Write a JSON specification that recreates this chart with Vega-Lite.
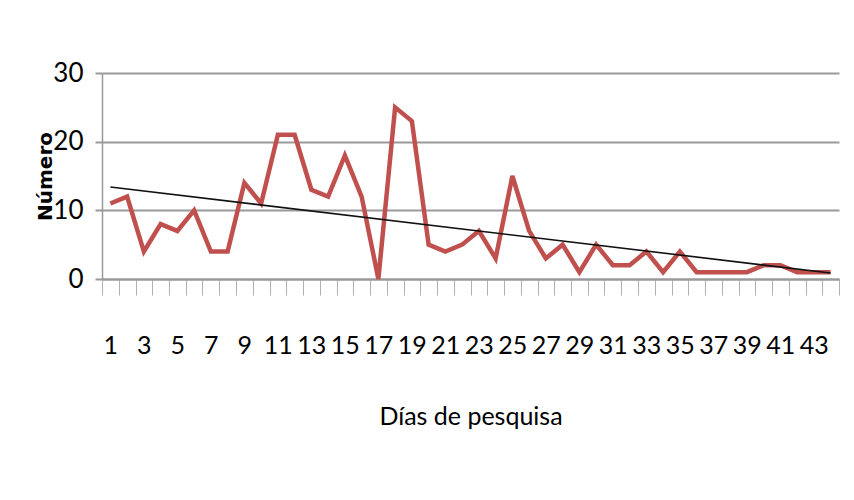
{
  "$schema": "https://vega.github.io/schema/vega-lite/v6.json",
  "width": 737,
  "height": 206,
  "autosize": {"type": "none"},
  "padding": {"left": 102, "top": 73, "right": 15, "bottom": 221},
  "background": "white",
  "config": {
    "view": {"stroke": null},
    "font": "Lato"
  },
  "data": {
    "values": [
      {"dia": 1, "numero": 11}, {"dia": 2, "numero": 12}, {"dia": 3, "numero": 4},
      {"dia": 4, "numero": 8}, {"dia": 5, "numero": 7}, {"dia": 6, "numero": 10},
      {"dia": 7, "numero": 4}, {"dia": 8, "numero": 4}, {"dia": 9, "numero": 14},
      {"dia": 10, "numero": 11}, {"dia": 11, "numero": 21}, {"dia": 12, "numero": 21},
      {"dia": 13, "numero": 13}, {"dia": 14, "numero": 12}, {"dia": 15, "numero": 18},
      {"dia": 16, "numero": 12}, {"dia": 17, "numero": 0}, {"dia": 18, "numero": 25},
      {"dia": 19, "numero": 23}, {"dia": 20, "numero": 5}, {"dia": 21, "numero": 4},
      {"dia": 22, "numero": 5}, {"dia": 23, "numero": 7}, {"dia": 24, "numero": 3},
      {"dia": 25, "numero": 15}, {"dia": 26, "numero": 7}, {"dia": 27, "numero": 3},
      {"dia": 28, "numero": 5}, {"dia": 29, "numero": 1}, {"dia": 30, "numero": 5},
      {"dia": 31, "numero": 2}, {"dia": 32, "numero": 2}, {"dia": 33, "numero": 4},
      {"dia": 34, "numero": 1}, {"dia": 35, "numero": 4}, {"dia": 36, "numero": 1},
      {"dia": 37, "numero": 1}, {"dia": 38, "numero": 1}, {"dia": 39, "numero": 1},
      {"dia": 40, "numero": 2}, {"dia": 41, "numero": 2}, {"dia": 42, "numero": 1},
      {"dia": 43, "numero": 1}, {"dia": 44, "numero": 1}
    ]
  },
  "layer": [
    {
      "mark": {"type": "line", "color": "#C0504D", "strokeWidth": 4.5},
      "encoding": {
        "x": {
          "field": "dia",
          "type": "quantitative",
          "scale": {"domain": [0.5, 44.5], "nice": false, "zero": false},
          "axis": {
            "values": [0.5, 1.5, 2.5, 3.5, 4.5, 5.5, 6.5, 7.5, 8.5, 9.5, 10.5, 11.5, 12.5, 13.5, 14.5, 15.5, 16.5, 17.5, 18.5, 19.5, 20.5, 21.5, 22.5, 23.5, 24.5, 25.5, 26.5, 27.5, 28.5, 29.5, 30.5, 31.5, 32.5, 33.5, 34.5, 35.5, 36.5, 37.5, 38.5, 39.5, 40.5, 41.5, 42.5, 43.5, 44.5],
            "tickCount": 60,
            "labelExpr": "(datum.value + 0.5) % 2 == 1 && datum.value < 44 ? format(datum.value + 0.5, 'd') : ''",
            "labelOffset": 8.37,
            "labelFlush": false,
            "labelOverlap": false,
            "labelBound": false,
            "labelFontSize": 25,
            "labelColor": "black",
            "labelBaseline": "alphabetic",
            "labelPadding": 58,
            "grid": false,
            "domainColor": "#999999",
            "domainWidth": 2,
            "tickColor": "#b0b0b0",
            "tickWidth": 1,
            "tickSize": 16,
            "title": "Días de pesquisa",
            "titleFontSize": 25,
            "titleFontWeight": "normal",
            "titleColor": "black",
            "titleBaseline": "alphabetic",
            "titleY": 145
          }
        },
        "y": {
          "field": "numero",
          "type": "quantitative",
          "scale": {"domain": [0, 30], "nice": false},
          "axis": {
            "values": [0, 10, 20, 30],
            "grid": true,
            "gridColor": "#999999",
            "gridWidth": 2,
            "domainColor": "#999999",
            "domainWidth": 1.5,
            "tickColor": "#999999",
            "tickWidth": 2,
            "tickSize": 7,
            "labelFontSize": 26,
            "labelColor": "black",
            "labelPadding": 12,
            "title": "Número",
            "titleFont": "DejaVu Sans",
            "titleFontSize": 20,
            "titleFontWeight": "bold",
            "titleColor": "black",
            "titleBaseline": "middle",
            "titleAngle": 270,
            "titleX": -57,
            "titleY": 103
          }
        }
      }
    },
    {
      "transform": [{"regression": "numero", "on": "dia"}],
      "mark": {"type": "line", "color": "#111111", "strokeWidth": 1.6},
      "encoding": {
        "x": {"field": "dia", "type": "quantitative"},
        "y": {"field": "numero", "type": "quantitative"}
      }
    }
  ]
}
